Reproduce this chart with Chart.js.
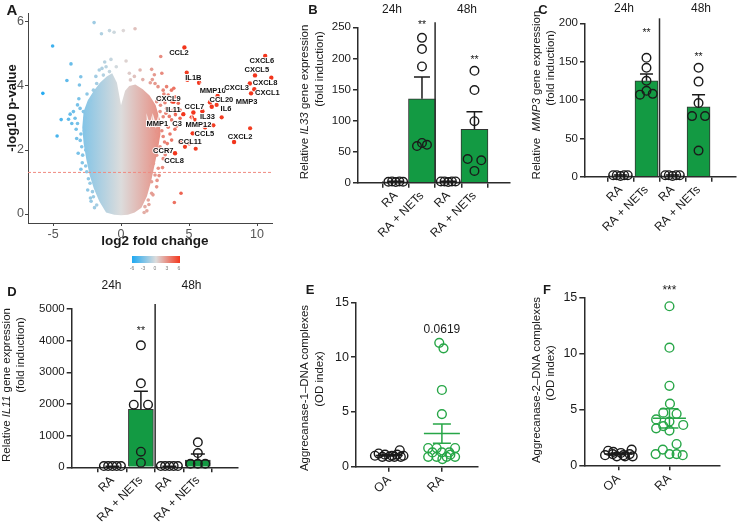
<!DOCTYPE html>
<html>
<head>
<meta charset="utf-8">
<title>NETs – volcano and expression panels</title>
<script src="https://cdn.jsdelivr.net/npm/chart.js@4.4.1/dist/chart.umd.min.js"></script>
<style>
  body { margin: 0; background: #fff; }
  #page { position: relative; width: 741px; height: 522px; overflow: hidden; font-family: "Liberation Sans", Arial, Helvetica, sans-serif; color: #1a1a1a; }
  #page canvas { position: absolute; left: 0; top: 0; }
  .lbl { position: absolute; white-space: nowrap; line-height: 1; transform: translate(-50%, -50%); }
  .v { transform: translate(-50%, -50%) rotate(-90deg); }
  .letter { font-weight: bold; font-size: 13px; }
  .ytitle { font-size: 11.5px; }
  .grp { font-size: 12px; }
  .cbar { position: absolute; left: 132px; top: 256px; width: 48px; height: 7px;
          background: linear-gradient(to right, #1fa9f2, #dcdcdc 50%, #f4381f); }
  .cb { font-size: 5px; color: #777; }
</style>
</head>
<body>
<div id="page">
  <canvas id="volcano" width="741" height="522"></canvas>
  <canvas id="il33" width="741" height="522"></canvas>
  <canvas id="mmp3" width="741" height="522"></canvas>
  <canvas id="il11" width="741" height="522"></canvas>
  <canvas id="agg1" width="741" height="522"></canvas>
  <canvas id="agg2" width="741" height="522"></canvas>

  <!-- panel letters -->
  <div class="lbl letter" style="left:12px;top:9px;font-size:15px">A</div>
  <div class="lbl letter" style="left:313px;top:9px">B</div>
  <div class="lbl letter" style="left:543px;top:9px">C</div>
  <div class="lbl letter" style="left:12px;top:291px">D</div>
  <div class="lbl letter" style="left:310px;top:289px">E</div>
  <div class="lbl letter" style="left:547px;top:289px">F</div>

  <!-- A titles + colour key -->
  <div class="lbl v" style="left:11px;top:108px;font-weight:bold;font-size:13px">-log10 p-value</div>
  <div class="lbl" style="left:155px;top:241px;font-weight:bold;font-size:13.5px">log2 fold change</div>
  <div class="cbar"></div>
  <div class="lbl cb" style="left:132px;top:268px">-6</div>
  <div class="lbl cb" style="left:143px;top:268px">-3</div>
  <div class="lbl cb" style="left:155px;top:268px">0</div>
  <div class="lbl cb" style="left:167px;top:268px">3</div>
  <div class="lbl cb" style="left:179px;top:268px">6</div>

  <!-- B -->
  <div class="lbl grp" style="left:392px;top:9px">24h</div>
  <div class="lbl grp" style="left:467px;top:9px">48h</div>
  <div class="lbl v ytitle" style="left:305px;top:102px">Relative <i>IL33</i> gene expression</div>
  <div class="lbl v ytitle" style="left:319.5px;top:69px">(fold induction)</div>

  <!-- C -->
  <div class="lbl grp" style="left:624px;top:8px">24h</div>
  <div class="lbl grp" style="left:701px;top:8px">48h</div>
  <div class="lbl v ytitle" style="left:536.5px;top:95px">Relative&nbsp; <i>MMP3</i> gene expression</div>
  <div class="lbl v ytitle" style="left:550.5px;top:68px">(fold induction)</div>

  <!-- D -->
  <div class="lbl grp" style="left:111.5px;top:285px">24h</div>
  <div class="lbl grp" style="left:191.5px;top:285px">48h</div>
  <div class="lbl v ytitle" style="left:7px;top:385px">Relative <i>IL11</i> gene expression</div>
  <div class="lbl v ytitle" style="left:20.5px;top:355px">(fold induction)</div>

  <!-- E / F -->
  <div class="lbl v ytitle" style="left:305px;top:388px">Aggrecanase-1–DNA complexes</div>
  <div class="lbl v ytitle" style="left:320px;top:379px">(OD index)</div>
  <div class="lbl v ytitle" style="left:537px;top:380px">Aggrecanase-2–DNA complexes</div>
  <div class="lbl v ytitle" style="left:551px;top:373px">(OD index)</div>
</div>

<script>
// ---------- A: volcano ----------
const volcanoXTicks = [-5, 0, 5, 10];
const volcanoYTicks = [0, 2, 4, 6];
const pCutoff = 1.3;

// outline of the dense cloud of genes (log2FC, -log10 p)
const cloudX = [0, -0.5, -1.1, -1.6, -2.0, -2.3, -2.55, -2.75, -2.85, -2.75, -2.45, -2.0, -1.55, -1.05, -0.65, -0.3, 0,
  0.3, 0.6, 1.05, 1.6, 2.1, 2.55, 2.85, 2.9, 2.7, 2.45, 2.2, 1.9, 1.5, 1.0, 0.5];
const cloudY = [-0.04, -0.02, 0.05, 0.4, 0.8, 1.2, 1.7, 2.2, 2.7, 3.2, 3.55, 3.85, 4.1, 4.3, 4.4, 4.1, 3.4,
  3.85, 4.0, 4.05, 3.9, 3.7, 3.4, 2.95, 2.5, 2.0, 1.5, 1.0, 0.55, 0.2, 0.05, -0.02];

// scattered genes outside the cloud
const sparseX = [-5.75, -5.03, -4.7, -4.4, -3.98, -3.68, -2.96, -3.06, -3.5, -3.74, -3.86, -3.38, -3.62, -3.2, -3.3,
  -3.01, -2.77, -3.26, -2.89, -2.82, -2.6, -2.52, -2.4, -2.28, -2.1, -2.03, -1.79, -3.2, -2.28, -2.03, -1.79, -1.3,
  -0.85, -2.7, -2.95, -2.65, -3.1, -2.5, -2.85, -2.6, -2.2, -1.6, -1.1,
  -1.98, -1.44, -0.85, -0.51, 0.17, 1.03, -0.74, 0.37, 0.61, 0.98, 0.69, -0.35, 1.4, 1.6,
  2.92, 2.25, 2.5, 2.72, 3.1, 3.35, 3.71, 3.88, 3.47, 3.96, 2.87, 2.62, 3.23, 3.72, 4.21, 4.34, 3.84, 3.35, 2.87,
  2.5, 3.1, 3.72, 4.34, 2.87, 3.47, 3.96, 2.62, 3.1, 3.72, 2.5, 2.87, 3.47, 2.62, 3.1, 2.38, 2.74, 2.5, 2.25, 2.62,
  2.25, 2.0, 1.76, 4.41, 3.92, 2.3, 3.0, 2.9, 3.3, 2.7, 3.0, 2.4, 2.8, 2.2, 1.9, 4.0, 4.1, 3.6,
  -3.0, -3.15, -2.95, -2.45, -2.25, -1.95, -1.85, -1.4, -1.2, 1.7, 2.05, 2.35, 2.65, 3.05, 3.2, 3.25, 2.95, 3.4,
  3.55, 3.15, 2.45, 2.15];
const sparseY = [3.77, 5.25, 2.44, 2.95, 4.17, 4.69, 4.29, 4.03, 3.2, 3.12, 2.96, 2.99, 2.83, 2.83, 2.65,
  3.3, 3.2, 2.36, 2.1, 1.84, 1.5, 1.32, 1.1, 0.96, 0.7, 0.54, 0.28, 3.41, 3.54, 3.87, 4.08, 4.34,
  4.45, 2.6, 2.5, 3.0, 3.6, 3.75, 1.6, 2.0, 0.4, 4.5, 4.6,
  5.98, 5.63, 5.73, 5.68, 5.73, 5.79, 4.83, 4.78, 4.4, 4.3, 4.19, 4.6, 4.5, 4.2,
  4.92, 4.52, 4.08, 3.98, 3.87, 3.98, 3.87, 3.93, 3.72, 3.66, 3.66, 3.51, 3.48, 3.51, 3.46, 3.25, 3.25, 3.3, 3.2,
  3.09, 3.04, 2.94, 2.99, 2.78, 2.71, 2.65, 2.58, 2.42, 2.31, 2.31, 2.1, 1.99, 1.84, 1.73, 1.58, 1.43, 1.22, 1.01, 0.85,
  0.65, 0.44, 0.23, 0.65, 0.36, 4.2, 4.4, 3.4, 3.15, 2.95, 2.6, 2.0, 1.2, 1.5, 0.1, 3.1, 2.75, 2.5,
  2.3, 1.9, 1.4, 0.75, 0.5, 0.2, 4.3, 4.55, 4.75, 0.05, 0.3, 0.6, 1.05, 1.45, 2.25, 1.85, 3.55, 2.2,
  3.05, 3.75, 4.35, 4.1];

// strongly induced genes without a label
const hitX = [4.83, 4.88, 7.03, 7.4, 6.79, 9.49, 5.44, 5.49, 4.7];
const hitY = [4.42, 4.19, 3.41, 3.02, 2.77, 2.68, 2.94, 2.04, 2.1];

// labelled genes: point and label position
const geneNames = ['CCL2', 'IL1B', 'MMP10', 'CCL20', 'IL6', 'CXCL9', 'IL11', 'CCL7', 'IL33', 'MMP12', 'MMP1', 'C3',
  'CCL5', 'CCL11', 'CCR7', 'CCL8', 'CXCL2', 'CXCL6', 'CXCL5', 'CXCL3', 'CXCL8', 'CXCL1', 'MMP3'];
const geneX = [4.66, 5.74, 7.1, 6.54, 6.67, 3.85, 4.0, 5.32, 5.98, 6.18, 4.58, 5.2, 5.27, 5.02, 4.34, 3.97, 8.31,
  10.6, 9.85, 9.47, 11.05, 9.8, 9.56];
const geneY = [5.2, 4.1, 3.69, 3.49, 3.35, 3.51, 3.2, 3.17, 3.21, 2.71, 3.12, 3.02, 2.52, 2.21, 2.25, 1.9, 2.25,
  4.94, 4.33, 4.08, 4.26, 3.9, 3.77];
const geneLabelX = [4.26, 5.32, 6.74, 7.38, 7.72, 3.48, 3.85, 5.39, 6.35, 5.69, 2.67, 4.12, 6.13, 5.07, 3.11, 3.9,
  8.75, 10.35, 9.98, 8.5, 10.59, 10.76, 9.24];
const geneLabelY = [5.04, 4.24, 3.84, 3.56, 3.28, 3.58, 3.25, 3.34, 3.04, 2.78, 2.8, 2.8, 2.49, 2.26, 1.97, 1.67,
  2.4, 4.79, 4.5, 3.95, 4.1, 3.79, 3.49];

// ---------- B, C, D: qPCR fold induction ----------
const qpcrLabels = ['RA', 'RA + NETs', 'RA', 'RA + NETs'];
const qpcrBarFill = ['#ffffff', '#139a43', '#ffffff', '#139a43'];

const il33Mean = [2, 135, 2, 86];
const il33Sem = [0.4, 35, 0.4, 28];
const il33Dots = [[1.5, 2, 1, 2, 1.5], [233, 215, 187, 59, 64, 61], [2, 2, 1, 2, 2], [180, 149, 99, 38, 19, 36]];
const il33Jitter = [[-0.28, -0.14, 0, 0.14, 0.28], [0, 0, 0, -0.19, 0, 0.19], [-0.28, -0.14, 0, 0.14, 0.28], [0, 0, 0, -0.26, 0, 0.26]];
const il33Sig = [{ x: 1, y: 253, t: '**' }, { x: 3, y: 197, t: '**' }];

const mmp3Mean = [2, 125, 2, 91];
const mmp3Sem = [0.3, 9, 0.3, 16];
const mmp3Dots = [[2, 2, 1, 2, 2], [155, 142, 125, 107, 112, 108], [2, 2, 1, 2, 2], [142, 124, 96, 79, 79, 34]];
const mmp3Jitter = [[-0.28, -0.14, 0, 0.14, 0.28], [0, 0, 0, -0.25, 0, 0.24], [-0.28, -0.14, 0, 0.14, 0.28], [0, 0, 0, -0.25, 0.25, 0]];
const mmp3Sig = [{ x: 1, y: 187, t: '**' }, { x: 3, y: 156, t: '**' }];

const il11Mean = [30, 1831, 30, 230];
const il11Sem = [5, 569, 5, 190];
const il11Dots = [[40, 40, 40, 40, 40], [3852, 2652, 1977, 1977, 493, 145], [40, 40, 40, 40, 40], [790, 450, 110, 110, 110]];
const il11Jitter = [[-0.3, -0.15, 0, 0.15, 0.3], [0, 0, -0.25, 0.25, 0, 0], [-0.3, -0.15, 0, 0.15, 0.3], [0, 0, -0.26, 0, 0.26]];
const il11Sig = [{ x: 1, y: 4300, t: '**' }];

// ---------- E, F: aggrecanase–DNA complexes ----------
const aggLabels = ['OA', 'RA'];

const agg1OA = [1.0, 1.2, 0.9, 1.1, 0.9, 1.0, 0.9, 1.1, 0.9, 1.5, 1.0];
const agg1OAJitter = [-0.27, -0.2, -0.13, -0.08, 0, 0.05, 0.1, 0.15, 0.22, 0.2, 0.27];
const agg1RA = [11.3, 10.8, 7.0, 4.8, 1.7, 1.7, 1.7, 1.3, 1.3, 1.3, 0.9, 0.9, 0.9, 0.9, 0.7, 1.1];
const agg1RAJitter = [-0.05, 0.03, 0, 0, -0.26, -0.1, 0.25, -0.18, 0, 0.14, -0.26, -0.1, 0.25, 0.09, 0.01, 0.16];
const agg1Mean = [1.03, 3.02];
const agg1Sem = [0.05, 0.88];
const agg1Sig = [{ x: 1, y: 12.5, t: '0.0619' }];

const agg2OA = [0.9, 1.3, 1.0, 0.8, 1.1, 0.8, 1.0, 1.4, 0.8, 1.2, 0.9];
const agg2OAJitter = [-0.26, -0.2, -0.11, -0.03, 0.05, 0.13, 0.22, 0.26, 0.28, -0.1, 0.1];
const agg2RA = [14.2, 10.5, 7.1, 5.5, 4.7, 4.6, 4.1, 3.9, 3.6, 3.3, 3.5, 3.1, 1.9, 1.4, 1.0, 1.0, 1.0, 0.9];
const agg2RAJitter = [0, 0, 0, 0.01, -0.12, 0.14, -0.26, 0, 0.27, -0.26, -0.12, 0, 0.14, -0.13, -0.27, 0, 0.14, 0.26];
const agg2Mean = [1.02, 4.19];
const agg2Sem = [0.07, 0.85];
const agg2Sig = [{ x: 1, y: 15.6, t: '***' }];

// ---------------------------------------------------------------
const FONT = '"Liberation Sans", Arial, Helvetica, sans-serif';
const INK = '#1a1a1a';
const AXIS = '#2b2b2b';
const DOT_GREEN = '#27a647';
Chart.defaults.font.family = FONT;
Chart.defaults.color = INK;
Chart.defaults.animation = false;
Chart.defaults.plugins.legend.display = false;
Chart.defaults.plugins.tooltip.enabled = false;

// blue – grey – red scale of the volcano, clamped at |log2FC| = 6
function fcColor(v) {
  const t = Math.max(-1, Math.min(1, v / 6));
  const mid = [220, 220, 220];
  const end = t < 0 ? [31, 169, 242] : [244, 56, 31];
  const a = Math.abs(t);
  return 'rgb(' + mid.map((m, k) => Math.round(m + (end[k] - m) * a)).join(',') + ')';
}

const toPoints = (xs, ys) => xs.map((v, i) => ({ x: v, y: ys[i] }));

// chart area fixed in page pixels; the axes get fixed sizes in afterFit
function pad(area, yw, xh) {
  return { left: area.l - yw, top: area.t, right: 741 - area.r, bottom: 522 - area.b - xh };
}
const xBand = area => Math.min(60, Math.floor(522 - area.b));

// dense cloud, drawn under the points with the same colour scale
const cloudPlugin = {
  id: 'cloud',
  beforeDatasetsDraw(chart) {
    const { ctx, scales: { x, y } } = chart;
    const g = ctx.createLinearGradient(x.getPixelForValue(-6), 0, x.getPixelForValue(6), 0);
    g.addColorStop(0, '#1fa9f2');
    g.addColorStop(0.5, '#dcdcdc');
    g.addColorStop(1, '#f4381f');
    ctx.save();
    ctx.beginPath();
    cloudX.forEach((v, i) => {
      const px = x.getPixelForValue(v);
      const py = y.getPixelForValue(cloudY[i]);
      if (i === 0) ctx.moveTo(px, py); else ctx.lineTo(px, py);
    });
    ctx.closePath();
    ctx.fillStyle = g;
    ctx.fill();
    // significance threshold
    const yc = y.getPixelForValue(pCutoff);
    ctx.setLineDash([3, 2]);
    ctx.strokeStyle = '#f08a80';
    ctx.lineWidth = 1;
    ctx.beginPath();
    ctx.moveTo(chart.chartArea.left, yc);
    ctx.lineTo(chart.chartArea.right, yc);
    ctx.stroke();
    ctx.restore();
  }
};

const geneLabelPlugin = {
  id: 'geneLabels',
  afterDatasetsDraw(chart) {
    const { ctx, scales: { x, y } } = chart;
    ctx.save();
    ctx.font = 'bold 7.5px ' + FONT;
    ctx.textAlign = 'center';
    ctx.textBaseline = 'middle';
    ctx.lineWidth = 2;
    ctx.strokeStyle = 'rgba(255,255,255,0.85)';
    ctx.fillStyle = '#111';
    geneNames.forEach((n, i) => {
      const px = x.getPixelForValue(geneLabelX[i]);
      const py = y.getPixelForValue(geneLabelY[i]);
      ctx.strokeText(n, px, py);
      ctx.fillText(n, px, py);
    });
    ctx.restore();
  }
};

function axisStyle(lw) {
  return {
    grid: { drawOnChartArea: false, drawTicks: true, tickLength: 5, color: AXIS, lineWidth: lw },
    border: { color: AXIS, width: lw }
  };
}

new Chart(document.getElementById('volcano'), {
  type: 'scatter',
  data: {
    datasets: [
      { data: toPoints(geneX, geneY), pointRadius: 2.2, pointBorderWidth: 0, pointBackgroundColor: '#f2351c', clip: false },
      { data: toPoints(hitX, hitY), pointRadius: 2.1, pointBorderWidth: 0, pointBackgroundColor: '#f23d22' },
      { data: toPoints(sparseX, sparseY), pointRadius: 1.8, pointBorderWidth: 0, pointBackgroundColor: c => fcColor(c.raw.x) }
    ]
  },
  options: {
    responsive: false,
    layout: { padding: pad({ l: 28, r: 272, t: 13, b: 223 }, 28, 40) },
    scales: {
      x: {
        type: 'linear', min: -6.84, max: 11.1,
        afterBuildTicks: s => { s.ticks = volcanoXTicks.map(v => ({ value: v })); },
        afterFit: s => { s.height = 40; },
        ticks: { color: '#555', font: { size: 12.5 }, padding: 1, callback: v => String(v) },
        grid: { drawOnChartArea: false, tickLength: 3, color: '#444', lineWidth: 1 },
        border: { color: '#444', width: 1 }
      },
      y: {
        min: -0.28, max: 6.28,
        afterBuildTicks: s => { s.ticks = volcanoYTicks.map(v => ({ value: v })); },
        afterFit: s => { s.width = 28; },
        ticks: { color: '#555', font: { size: 12.5 }, padding: 1, callback: v => String(v) },
        grid: { drawOnChartArea: false, tickLength: 3, color: '#444', lineWidth: 1 },
        border: { color: '#444', width: 1 }
      }
    }
  },
  plugins: [cloudPlugin, geneLabelPlugin]
});

// error bars / mean ± SEM, drawn through the chart scales
function errorPlugin(items) {
  return {
    id: 'errBars',
    afterDatasetsDraw(chart) {
      const { ctx, scales: { x, y } } = chart;
      ctx.save();
      items.forEach(it => {
        const px = x.getPixelForValue(it.x);
        const pm = y.getPixelForValue(it.mean);
        const pu = y.getPixelForValue(it.mean + it.sem);
        const pl = y.getPixelForValue(it.mean - it.sem);
        ctx.strokeStyle = it.color;
        ctx.lineWidth = 1.5;
        ctx.beginPath();
        if (it.both) {
          ctx.moveTo(px - it.half, pm); ctx.lineTo(px + it.half, pm);
          ctx.moveTo(px, pl); ctx.lineTo(px, pu);
          ctx.moveTo(px - it.cap, pl); ctx.lineTo(px + it.cap, pl);
        } else {
          ctx.moveTo(px, pm); ctx.lineTo(px, pu);
        }
        ctx.moveTo(px - it.cap, pu); ctx.lineTo(px + it.cap, pu);
        ctx.stroke();
      });
      ctx.restore();
    }
  };
}

function sigPlugin(marks, size) {
  return {
    id: 'sig',
    afterDatasetsDraw(chart) {
      const { ctx, scales: { x, y } } = chart;
      ctx.save();
      ctx.font = size + 'px ' + FONT;
      ctx.fillStyle = INK;
      ctx.textAlign = 'center';
      ctx.textBaseline = 'middle';
      marks.forEach(m => ctx.fillText(m.t, x.getPixelForValue(m.x), y.getPixelForValue(m.y)));
      ctx.restore();
    }
  };
}

// vertical rule between the 24h and 48h groups
const dividerPlugin = {
  id: 'divider',
  afterDatasetsDraw(chart) {
    const { ctx, chartArea, scales: { x } } = chart;
    const px = x.getPixelForValue(1.5);
    ctx.save();
    ctx.strokeStyle = AXIS;
    ctx.lineWidth = 1.5;
    ctx.beginPath();
    ctx.moveTo(px, chartArea.top - 5);
    ctx.lineTo(px, chartArea.bottom);
    ctx.stroke();
    ctx.restore();
  }
};

function catAxis(labels, min, max, size, h) {
  return Object.assign({
    type: 'linear', min, max,
    afterBuildTicks: s => { s.ticks = labels.map((_, i) => ({ value: i })); },
    afterFit: s => { s.height = h; },
    ticks: { autoSkip: false, minRotation: 45, maxRotation: 45, padding: 1, color: INK, font: { size }, callback: (v, i) => labels[i] }
  }, axisStyle(1.5));
}

function valueAxis(max, step, size) {
  return Object.assign({
    min: 0, max,
    afterFit: s => { s.width = 45; },
    ticks: { stepSize: step, padding: 2, color: INK, font: { size }, callback: v => String(v) }
  }, axisStyle(1.5));
}

function qpcrPanel(id, p) {
  const dots = [];
  p.dots.forEach((vals, g) => vals.forEach((v, k) => dots.push({ x: g + p.jitter[g][k], y: v })));
  const errs = p.mean.map((m, i) => ({ x: i, mean: m, sem: p.sem[i], color: INK, cap: p.cap }));
  const xh = xBand(p.area);
  new Chart(document.getElementById(id), {
    type: 'bar',
    data: {
      datasets: [
        { type: 'scatter', data: dots, order: 0, clip: false, pointRadius: 4.3, pointBorderWidth: 1.4,
          pointBorderColor: INK, pointBackgroundColor: 'rgba(255,255,255,0)' },
        { type: 'bar', data: p.mean.map((m, i) => ({ x: i, y: m })), order: 1, barThickness: p.barW,
          backgroundColor: qpcrBarFill, borderColor: '#333', borderWidth: 1 }
      ]
    },
    options: {
      responsive: false,
      layout: { padding: pad(p.area, 45, xh) },
      scales: { x: catAxis(qpcrLabels, p.xMin, p.xMax, 12, xh), y: valueAxis(p.yMax, p.yStep, 11.5) }
    },
    plugins: [errorPlugin(errs), sigPlugin(p.sig, 10.5), dividerPlugin]
  });
}

qpcrPanel('il33', { area: { l: 358, r: 510, t: 27.3, b: 182.7 }, xMin: -0.714, xMax: 3.63, yMax: 250, yStep: 50,
  mean: il33Mean, sem: il33Sem, dots: il33Dots, jitter: il33Jitter, sig: il33Sig, barW: 27, cap: 8 });
qpcrPanel('mmp3', { area: { l: 585, r: 741, t: 23.3, b: 176.7 }, xMin: -0.64, xMax: 3.69, yMax: 200, yStep: 50,
  mean: mmp3Mean, sem: mmp3Sem, dots: mmp3Dots, jitter: mmp3Jitter, sig: mmp3Sig, barW: 23, cap: 6.5 });
qpcrPanel('il11', { area: { l: 71.7, r: 238, t: 309, b: 467.3 }, xMin: -0.7, xMax: 3.68, yMax: 5000, yStep: 1000,
  mean: il11Mean, sem: il11Sem, dots: il11Dots, jitter: il11Jitter, sig: il11Sig, barW: 25, cap: 7 });

function aggPanel(id, p) {
  const oa = p.oa.map((v, k) => ({ x: 0 + p.oaJit[k], y: v }));
  const ra = p.ra.map((v, k) => ({ x: 1 + p.raJit[k], y: v }));
  const errs = [
    { x: 0, mean: p.mean[0], sem: p.sem[0], color: INK, half: p.halfOA, cap: 8, both: true },
    { x: 1, mean: p.mean[1], sem: p.sem[1], color: DOT_GREEN, half: p.halfRA, cap: 9, both: true }
  ];
  const xh = xBand(p.area);
  new Chart(document.getElementById(id), {
    type: 'scatter',
    data: {
      datasets: [
        { data: oa, pointRadius: 4.4, pointBorderWidth: 1.4, pointBorderColor: INK, pointBackgroundColor: 'rgba(255,255,255,0)', clip: false },
        { data: ra, pointRadius: 4.4, pointBorderWidth: 1.4, pointBorderColor: DOT_GREEN, pointBackgroundColor: 'rgba(255,255,255,0)', clip: false }
      ]
    },
    options: {
      responsive: false,
      layout: { padding: pad(p.area, 45, xh) },
      scales: { x: catAxis(aggLabels, p.xMin, p.xMax, 12.5, xh), y: valueAxis(15, 5, 12.5) }
    },
    plugins: [errorPlugin(errs), sigPlugin(p.sig, p.sigSize)]
  });
}

aggPanel('agg1', { area: { l: 356, r: 478, t: 302.3, b: 466.7 }, xMin: -0.63, xMax: 1.685,
  oa: agg1OA, oaJit: agg1OAJitter, ra: agg1RA, raJit: agg1RAJitter, mean: agg1Mean, sem: agg1Sem,
  sig: agg1Sig, sigSize: 12, halfOA: 13.5, halfRA: 18 });
aggPanel('agg2', { area: { l: 584.3, r: 720, t: 297.3, b: 465.3 }, xMin: -0.667, xMax: 1.99,
  oa: agg2OA, oaJit: agg2OAJitter, ra: agg2RA, raJit: agg2RAJitter, mean: agg2Mean, sem: agg2Sem,
  sig: agg2Sig, sigSize: 12, halfOA: 14, halfRA: 16.5 });
</script>
</body>
</html>
